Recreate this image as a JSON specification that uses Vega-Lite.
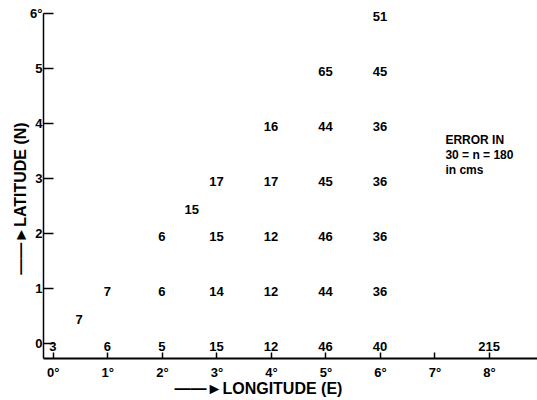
{
  "$schema": "https://vega.github.io/schema/vega-lite/v6.json",
  "autosize": "none",
  "width": 494,
  "height": 345,
  "padding": {"left": 43, "top": 13, "right": 0, "bottom": 42},
  "background": "white",
  "config": {
    "view": {"stroke": null},
    "font": "Liberation Sans",
    "axis": {
      "grid": false,
      "domainColor": "black",
      "tickColor": "black",
      "labelColor": "black",
      "titleColor": "black",
      "labelFont": "Liberation Sans",
      "titleFont": "Liberation Sans",
      "labelFontWeight": "bold",
      "titleFontWeight": "bold"
    }
  },
  "datasets": {
    "cells": [
      {"lon": 0, "lat": 0, "label": "3"},
      {"lon": 1, "lat": 0, "label": "6"},
      {"lon": 2, "lat": 0, "label": "5"},
      {"lon": 3, "lat": 0, "label": "15"},
      {"lon": 4, "lat": 0, "label": "12"},
      {"lon": 5, "lat": 0, "label": "46"},
      {"lon": 6, "lat": 0, "label": "40"},
      {"lon": 8, "lat": 0, "label": "215"},
      {"lon": 0.48, "lat": 0.5, "label": "7"},
      {"lon": 1, "lat": 1, "label": "7"},
      {"lon": 2, "lat": 1, "label": "6"},
      {"lon": 3, "lat": 1, "label": "14"},
      {"lon": 4, "lat": 1, "label": "12"},
      {"lon": 5, "lat": 1, "label": "44"},
      {"lon": 6, "lat": 1, "label": "36"},
      {"lon": 2, "lat": 2, "label": "6"},
      {"lon": 3, "lat": 2, "label": "15"},
      {"lon": 4, "lat": 2, "label": "12"},
      {"lon": 5, "lat": 2, "label": "46"},
      {"lon": 6, "lat": 2, "label": "36"},
      {"lon": 2.55, "lat": 2.5, "label": "15"},
      {"lon": 3, "lat": 3, "label": "17"},
      {"lon": 4, "lat": 3, "label": "17"},
      {"lon": 5, "lat": 3, "label": "45"},
      {"lon": 6, "lat": 3, "label": "36"},
      {"lon": 4, "lat": 4, "label": "16"},
      {"lon": 5, "lat": 4, "label": "44"},
      {"lon": 6, "lat": 4, "label": "36"},
      {"lon": 5, "lat": 5, "label": "65"},
      {"lon": 6, "lat": 5, "label": "45"},
      {"lon": 6, "lat": 6, "label": "51"}
    ],
    "note": [
      {"lon": 7.2, "lat": 3.69, "label": "ERROR IN\n30 = n = 180\nin cms"}
    ]
  },
  "layer": [
    {
      "data": {"name": "cells"},
      "mark": {"type": "text", "font": "Liberation Sans", "fontWeight": "bold", "fontSize": 13, "color": "black", "align": "center", "baseline": "middle", "dy": 4},
      "encoding": {
        "x": {
          "field": "lon", "type": "quantitative",
          "scale": {"domain": [-0.18, 8.88], "nice": false, "zero": false},
          "axis": {
            "values": [0, 1, 2, 3, 4, 5, 6, 7, 8],
            "labelExpr": "datum.value + '°'",
            "tickSize": -6,
            "tickWidth": 1.5,
            "domainWidth": 2,
            "labelFontSize": 13,
            "labelPadding": 14,
            "labelBaseline": "top",
            "title": "——►LONGITUDE (E)",
            "titleFontSize": 16,
            "titleX": 215,
            "titleY": 30,
            "titleBaseline": "middle",
            "titleAnchor": "middle"
          }
        },
        "y": {
          "field": "lat", "type": "quantitative",
          "scale": {"domain": [-0.27, 6.0], "nice": false, "zero": false},
          "axis": {
            "values": [0, 1, 2, 3, 4, 5, 6],
            "labelExpr": "datum.value == 6 ? '6°' : datum.value",
            "tickSize": -10,
            "tickWidth": 1.5,
            "domainWidth": 1.5,
            "labelFontSize": 13,
            "labelPadding": 11,
            "title": "——►LATITUDE (N)",
            "titleFontSize": 16,
            "titleX": -23,
            "titleY": 185,
            "titleBaseline": "middle",
            "titleAngle": -90
          }
        },
        "text": {"field": "label"}
      }
    },
    {
      "data": {"name": "note"},
      "mark": {"type": "text", "font": "Liberation Sans", "fontWeight": "bold", "fontSize": 12, "color": "black", "align": "left", "baseline": "middle", "lineBreak": "\n", "lineHeight": 15},
      "encoding": {
        "x": {"field": "lon", "type": "quantitative"},
        "y": {"field": "lat", "type": "quantitative"},
        "text": {"field": "label"}
      }
    }
  ]
}
